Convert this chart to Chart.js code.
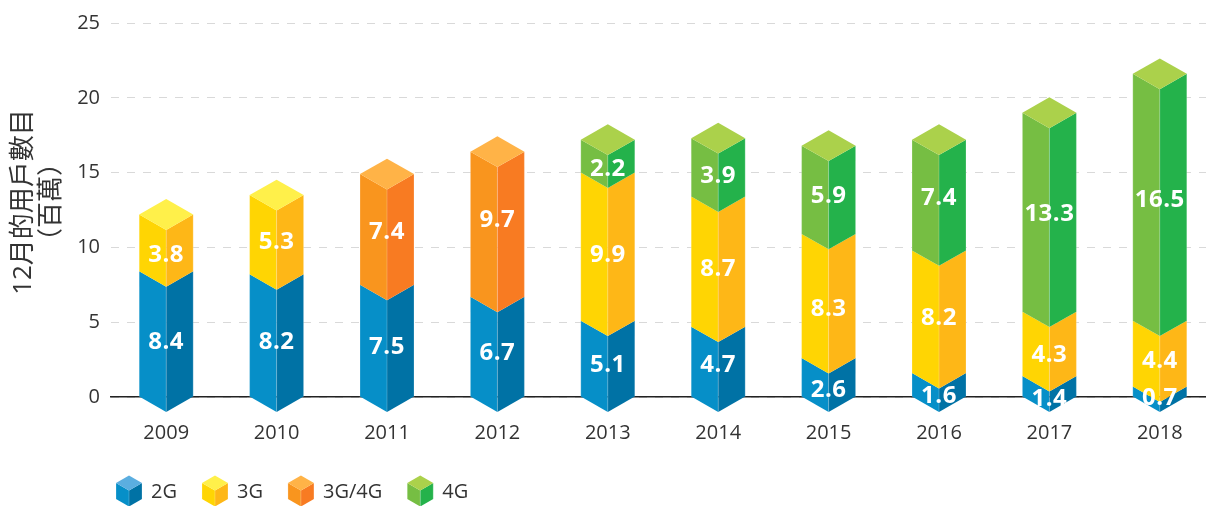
<!DOCTYPE html>
<html lang="zh-Hant">
<head>
<meta charset="utf-8">
<title>12月的用戶數目</title>
<script src="https://cdn.jsdelivr.net/npm/chart.js@4"></script>
<style>
    html, body { margin: 0; padding: 0; background: #fff; overflow: hidden; }
    #wrap { width: 1206px; height: 506px; overflow: hidden; }
    canvas { display: block; }
</style>
</head>
<body>
<div id="wrap"><canvas id="usersChart" width="1216" height="506"></canvas></div>
<script>
'use strict';

// Chart data
const years = ['2009', '2010', '2011', '2012', '2013', '2014', '2015', '2016', '2017', '2018'];
const values2G = [8.4, 8.2, 7.5, 6.7, 5.1, 4.7, 2.6, 1.6, 1.4, 0.7];
const values3G = [3.8, 5.3, null, null, 9.9, 8.7, 8.3, 8.2, 4.3, 4.4];
const values3G4G = [null, null, 7.4, 9.7, null, null, null, null, null, null];
const values4G = [null, null, null, null, 2.2, 3.9, 5.9, 7.4, 13.3, 16.5];
const yTicks = [0, 5, 10, 15, 20, 25];
const axisTitle = ['12月的用戶數目', '（百萬）'];

const FONT = '"Open Sans", "Noto Sans CJK TC", sans-serif';
const TEXT_COLOR = '#333333';

// Face colours of the prisms: left, right, top
const faces = {
    '2G': { left: '#068fc8', right: '#0072a5', top: '#5baee0' },
    '3G': { left: '#ffd503', right: '#feb717', top: '#fff04a' },
    '3G/4G': { left: '#f9951e', right: '#f87b22', top: '#ffb347' },
    '4G': { left: '#76be43', right: '#24b24b', top: '#abd14b' }
};

// Hand placed labels in the original sit a little off the segment middle (px, by dataset then year)
const labelNudge = [
    [6, 4.5, 5, 5, 5, 2, 10.5, 9, 10.5, 5],
    [10.5, 5, 0, 0, 7, 6, 11, 4.5, 9, 5.5],
    [0, 0, 1, -6, 0, 0, 0, 0, 0, 0],
    [0, 0, 0, 0, 11.5, 7, 4, 1.5, 0, 1]
];

function fillPoly(ctx, color, points) {
    ctx.fillStyle = color;
    ctx.beginPath();
    points.forEach(([x, y], i) => (i ? ctx.lineTo(x, y) : ctx.moveTo(x, y)));
    ctx.closePath();
    ctx.fill();
}

// Left and right faces of a prism section, corners at yTop / yBase
function drawSides(ctx, c, cx, half, depth, yTop, yBase) {
    fillPoly(ctx, c.left, [[cx - half, yTop], [cx, yTop + depth], [cx, yBase + depth], [cx - half, yBase]]);
    fillPoly(ctx, c.right, [[cx + half, yTop], [cx, yTop + depth], [cx, yBase + depth], [cx + half, yBase]]);

    // Thin highlights along the vertical edges
    ctx.strokeStyle = 'rgba(255,255,255,0.22)';
    ctx.lineWidth = 1;
    ctx.beginPath();
    ctx.moveTo(cx, yTop + depth);
    ctx.lineTo(cx, yBase + depth);
    ctx.moveTo(cx - half, yTop);
    ctx.lineTo(cx - half, yBase);
    ctx.moveTo(cx + half, yTop);
    ctx.lineTo(cx + half, yBase);
    ctx.stroke();
}

function drawCap(ctx, c, cx, half, depth, y) {
    fillPoly(ctx, c.top, [[cx - half, y], [cx, y - depth], [cx + half, y], [cx, y + depth]]);
}

// Draws the stacked bars as isometric prisms from the bar elements Chart.js laid out
const prismPlugin = {
    id: 'prisms',
    afterDatasetsDraw(chart) {
        const ctx = chart.ctx;
        const count = chart.data.labels.length;
        ctx.save();
        for (let i = 0; i < count; i++) {
            let last = null;
            chart.data.datasets.forEach((ds, d) => {
                const bar = chart.getDatasetMeta(d).data[i];
                if (ds.data[i] === null || !bar) return;
                const half = bar.width / 2;
                drawSides(ctx, faces[ds.label], bar.x, half, half * 0.57, bar.y, bar.base);
                last = { c: faces[ds.label], bar, half };
            });
            if (last) drawCap(ctx, last.c, last.bar.x, last.half, last.half * 0.57, last.bar.y);
        }

        // Value labels
        ctx.font = `bold 24px ${FONT}`;
        ctx.letterSpacing = '0.5px';
        ctx.fillStyle = '#fff';
        ctx.textAlign = 'center';
        ctx.textBaseline = 'middle';
        chart.data.datasets.forEach((ds, d) => {
            chart.getDatasetMeta(d).data.forEach((bar, i) => {
                if (ds.data[i] === null) return;
                ctx.fillText(ds.data[i].toFixed(1), bar.x, (bar.y + bar.base) / 2 + labelNudge[d][i] + 2);
            });
        });
        ctx.letterSpacing = '0px';
        ctx.restore();
    }
};

// Two line rotated axis title and the cube legend under the chart
const furniturePlugin = {
    id: 'furniture',
    afterDraw(chart) {
        const ctx = chart.ctx;
        const area = chart.chartArea;
        ctx.save();

        // Axis title
        ctx.save();
        ctx.translate(38, area.top + area.height / 2 - 8);
        ctx.rotate(-Math.PI / 2);
        ctx.font = `26px ${FONT}`;
        ctx.fillStyle = TEXT_COLOR;
        ctx.textAlign = 'center';
        ctx.textBaseline = 'middle';
        axisTitle.forEach((line, i) => ctx.fillText(line, 0, (i - 0.5) * 28));
        ctx.restore();

        // Legend
        ctx.font = `20px ${FONT}`;
        ctx.textAlign = 'left';
        ctx.textBaseline = 'middle';
        let x = area.left + 5;
        chart.data.datasets.forEach(ds => {
            const c = faces[ds.label];
            const half = 13;
            const depth = 7.5;
            const cx = x + half;
            const y = 483;
            drawSides(ctx, c, cx, half, depth, y, y + 16);
            drawCap(ctx, c, cx, half, depth, y);
            ctx.fillStyle = TEXT_COLOR;
            ctx.fillText(ds.label, x + 35, 492);
            x += 35 + ctx.measureText(ds.label).width + 25;
        });
        ctx.restore();
    }
};

function makeDataset(label, data) {
    return {
        label,
        data,
        stack: 'users',
        backgroundColor: 'transparent',
        barPercentage: 54 / 110.4,
        categoryPercentage: 1
    };
}

new Chart(document.getElementById('usersChart').getContext('2d'), {
    type: 'bar',
    data: {
        labels: years,
        datasets: [
            makeDataset('2G', values2G),
            makeDataset('3G', values3G),
            makeDataset('3G/4G', values3G4G),
            makeDataset('4G', values4G)
        ]
    },
    plugins: [prismPlugin, furniturePlugin],
    options: {
        responsive: false,
        animation: false,
        layout: { padding: { top: 22, right: 1, left: 0, bottom: 0 } },
        scales: {
            x: {
                stacked: true,
                afterFit(scale) { scale.height = 109; },
                grid: { display: false, drawTicks: false },
                border: { display: true, color: '#222', width: 1.5 },
                ticks: { color: TEXT_COLOR, padding: 24, font: { family: FONT, size: 20 } }
            },
            y: {
                stacked: true,
                min: 0,
                max: 25,
                afterFit(scale) { scale.width = 111; },
                afterBuildTicks(scale) { scale.ticks = yTicks.map(value => ({ value })); },
                grid: { color: '#d9d9d9', lineWidth: 1, drawTicks: false },
                border: { display: false, dash: [8, 8] },
                ticks: { color: TEXT_COLOR, padding: 11, font: { family: FONT, size: 20 } }
            }
        },
        plugins: {
            legend: { display: false },
            tooltip: { enabled: false }
        }
    }
});
</script>
</body>
</html>
